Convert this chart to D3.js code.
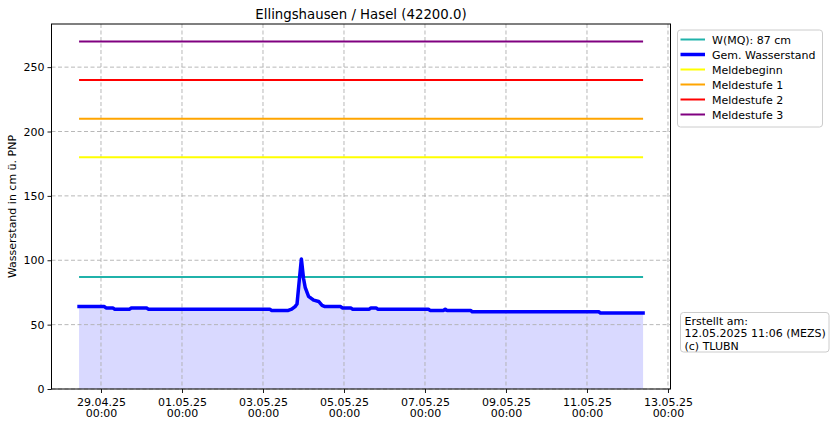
<!DOCTYPE html>
<html><head><meta charset="utf-8">
<script src="https://cdn.jsdelivr.net/npm/d3@7"></script>
<style>
html,body{margin:0;padding:0;background:#fff;}
svg{display:block;font-family:"DejaVu Sans",sans-serif;}
</style></head>
<body><svg id="c" width="834" height="426"></svg>
<script>
const titleText = "Ellingshausen / Hasel (42200.0)";
const yLabel = "Wasserstand in cm ü. PNP";
const infoLines = ["Erstellt am:", "12.05.2025 11:06 (MEZS)", "(c) TLUBN"];

const levelTimes = [
 "2025-04-28T11:00","2025-04-29T02:00","2025-04-29T03:00","2025-04-29T07:00","2025-04-29T08:00",
 "2025-04-29T17:00","2025-04-29T18:00","2025-04-30T03:00","2025-04-30T04:00","2025-05-03T04:00",
 "2025-05-03T05:00","2025-05-03T15:00","2025-05-03T17:00","2025-05-03T19:00","2025-05-03T20:10",
 "2025-05-03T21:20","2025-05-03T22:45","2025-05-04T00:00","2025-05-04T01:00","2025-05-04T03:00",
 "2025-05-04T06:00","2025-05-04T09:00","2025-05-04T11:00","2025-05-04T12:45","2025-05-04T22:00",
 "2025-05-04T23:00","2025-05-05T04:00","2025-05-05T05:00","2025-05-05T15:00","2025-05-05T16:00",
 "2025-05-05T19:00","2025-05-05T20:00","2025-05-07T02:00","2025-05-07T03:00","2025-05-07T11:00",
 "2025-05-07T12:00","2025-05-07T13:00","2025-05-08T03:00","2025-05-08T04:00","2025-05-11T07:00",
 "2025-05-11T08:00","2025-05-12T09:15"];
const levelValues = [
 64,64,63,63,62,
 62,63,63,62,62,
 61,61,62,64,66,
 82,101,86,79,72,
 69,68,65,64,64,
 63,63,62,62,63,
 63,62,62,61,61,
 62,61,61,60,60,
 59,59];

const refNames  = ["W(MQ): 87 cm","Meldebeginn","Meldestufe 1","Meldestufe 2","Meldestufe 3"];
const refValues = [87,180,210,240,270];
const refColors = ["#20b2aa","#ffff00","#ffa500","#ff0000","#800080"];

const legendNames  = ["W(MQ): 87 cm","Gem. Wasserstand","Meldebeginn","Meldestufe 1","Meldestufe 2","Meldestufe 3"];
const legendColors = ["#20b2aa","#0000ff","#ffff00","#ffa500","#ff0000","#800080"];
const legendWidths = [2,3.5,2,2,2,2];

const xTickDates = ["2025-04-29","2025-05-01","2025-05-03","2025-05-05","2025-05-07","2025-05-09","2025-05-11","2025-05-13"];
const yTicks = [0,50,100,150,200,250];
const xDomain = ["2025-04-27T18:40","2025-05-13T01:30"];
const yDomain = [0,283.5];

const parse = s => new Date(s.length===10 ? s+"T00:00Z" : s+"Z");
const data = levelTimes.map((t,i)=>({t:parse(t), v:levelValues[i]}));

const L=51.5, R=670.5, T=24, B=389;
const svg = d3.select("#c");
const x = d3.scaleUtc().domain(xDomain.map(parse)).range([L,R]);
const y = d3.scaleLinear().domain(yDomain).range([B,T]);
const fmtD = d3.utcFormat("%d.%m.%y"), fmtT = d3.utcFormat("%H:%M");

// fill
svg.append("path").datum(data)
  .attr("d", d3.area().x(d=>x(d.t)).y0(y(0)).y1(d=>y(d.v)))
  .attr("fill","#d9d9ff");

// grid
const g = svg.append("g");
yTicks.forEach(v=>g.append("line").attr("x1",L).attr("x2",R).attr("y1",y(v)).attr("y2",y(v))
  .attr("stroke","#b0b0b0").attr("stroke-width",0.9).attr("stroke-dasharray","4,2.5"));
xTickDates.forEach(d=>g.append("line").attr("x1",x(parse(d))).attr("x2",x(parse(d))).attr("y1",T).attr("y2",B)
  .attr("stroke","#b0b0b0").attr("stroke-width",0.9).attr("stroke-dasharray","4,2.5"));

// reference lines
const t0 = data[0].t, t1 = data[data.length-1].t;
refValues.forEach((v,i)=>svg.append("line").attr("x1",x(t0)).attr("x2",x(t1)).attr("y1",y(v)).attr("y2",y(v))
  .attr("stroke",refColors[i]).attr("stroke-width",2));

// main line
svg.append("path").datum(data)
  .attr("d", d3.line().x(d=>x(d.t)).y(d=>y(d.v)))
  .attr("fill","none").attr("stroke","#0000ff").attr("stroke-width",3.5)
  .attr("stroke-linejoin","round").attr("stroke-linecap","square");

// axes
const yAxis = svg.append("g").attr("transform",`translate(${L},0)`)
  .call(d3.axisLeft(y).tickValues(yTicks).tickSize(4).tickPadding(3));
const xAxis = svg.append("g").attr("transform",`translate(0,${B})`)
  .call(d3.axisBottom(x).tickValues(xTickDates.map(parse)).tickSize(4).tickFormat(""));
[yAxis,xAxis].forEach(a=>{a.select(".domain").remove(); a.selectAll("line").attr("stroke","#000").attr("stroke-width",0.9);});
yAxis.selectAll("text").attr("font-size",11).attr("fill","#000").attr("font-family","DejaVu Sans");
xAxis.selectAll(".tick").each(function(d){
  const s = d3.select(this);
  s.append("text").attr("fill","#000").attr("font-size",11).attr("text-anchor","middle").attr("font-family","DejaVu Sans")
    .attr("x",0).attr("y",17).text(fmtD(d));
  s.append("text").attr("fill","#000").attr("font-size",11).attr("text-anchor","middle").attr("font-family","DejaVu Sans")
    .attr("x",0).attr("y",28).text(fmtT(d));
});

// frame
svg.append("rect").attr("x",L).attr("y",T).attr("width",R-L).attr("height",B-T)
  .attr("fill","none").attr("stroke","#000").attr("stroke-width",1);

// title & y label
svg.append("text").attr("x",(L+R)/2).attr("y",18.5).attr("text-anchor","middle")
  .attr("font-size",13.3).text(titleText);
svg.append("text").attr("transform",`translate(15.5,${(T+B)/2}) rotate(-90)`).attr("text-anchor","middle")
  .attr("font-size",11).text(yLabel);

// legend
const lg = svg.append("g");
lg.append("rect").attr("x",677.5).attr("y",30).attr("width",145).attr("height",97).attr("rx",3)
  .attr("fill","#fff").attr("fill-opacity",0.8).attr("stroke","#cccccc");
legendNames.forEach((n,i)=>{
  const yy = 39.5 + i*15;
  lg.append("line").attr("x1",680.5).attr("x2",705).attr("y1",yy).attr("y2",yy)
    .attr("stroke",legendColors[i]).attr("stroke-width",legendWidths[i]);
  lg.append("text").attr("x",712).attr("y",yy+4).attr("font-size",11).text(n);
});

// info box
const ib = svg.append("g");
ib.append("rect").attr("x",680.5).attr("y",312.5).attr("width",148.5).attr("height",39.5).attr("rx",3)
  .attr("fill","#fff").attr("stroke","#cccccc");
infoLines.forEach((s,i)=>ib.append("text").attr("x",684.5).attr("y",324.5+i*12.6).attr("font-size",11).text(s));
</script></body></html>
